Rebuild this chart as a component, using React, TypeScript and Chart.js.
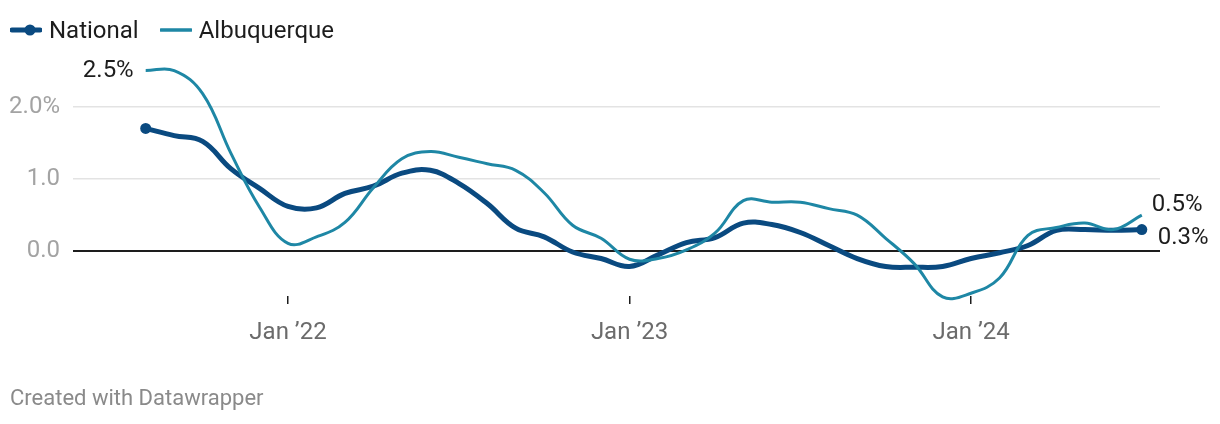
import React, { useEffect, useRef } from "react";
import { Chart, registerables } from "chart.js";

Chart.register(...registerables);

// Monthly, Aug 2021 .. Jul 2024 (index 0..35)
const months: string[] = [
  "Aug 2021", "Sep 2021", "Oct 2021", "Nov 2021", "Dec 2021",
  "Jan 2022", "Feb 2022", "Mar 2022", "Apr 2022", "May 2022", "Jun 2022", "Jul 2022",
  "Aug 2022", "Sep 2022", "Oct 2022", "Nov 2022", "Dec 2022",
  "Jan 2023", "Feb 2023", "Mar 2023", "Apr 2023", "May 2023", "Jun 2023", "Jul 2023",
  "Aug 2023", "Sep 2023", "Oct 2023", "Nov 2023", "Dec 2023",
  "Jan 2024", "Feb 2024", "Mar 2024", "Apr 2024", "May 2024", "Jun 2024", "Jul 2024",
];

const national: number[] = [
  1.70, 1.60, 1.52, 1.14, 0.87,
  0.62, 0.60, 0.80, 0.90, 1.08, 1.12, 0.94,
  0.66, 0.32, 0.20, -0.01, -0.10,
  -0.21, -0.05, 0.12, 0.19, 0.39, 0.37, 0.26,
  0.08, -0.10, -0.21, -0.22, -0.21,
  -0.10, -0.02, 0.08, 0.29, 0.30, 0.29, 0.30,
];

const albuquerque: number[] = [
  2.50, 2.50, 2.18, 1.35, 0.61,
  0.11, 0.20, 0.40, 0.88, 1.28, 1.38, 1.30,
  1.21, 1.12, 0.81, 0.36, 0.18,
  -0.11, -0.10, 0.02, 0.25, 0.70, 0.68, 0.68,
  0.59, 0.50, 0.18, -0.17, -0.63,
  -0.58, -0.37, 0.22, 0.33, 0.39, 0.30, 0.50,
];

const seriesNames: string[] = ["National", "Albuquerque"];
const seriesColors: string[] = ["#0a4a80", "#1e87a5"];

const xTickIndex: number[] = [5, 17, 29];
const xTickLabels: string[] = ["Jan \u201922", "Jan \u201923", "Jan \u201924"];

const yTickValues: number[] = [0, 1, 2];
const yTickLabels: string[] = ["0.0", "1.0", "2.0%"];

const FONT = "Roboto, 'Noto Sans', sans-serif";

export default function App() {
  const canvasRef = useRef<HTMLCanvasElement | null>(null);

  useEffect(() => {
    document.body.style.margin = "0";
    const canvas = canvasRef.current;
    if (!canvas) return;

    const endLabels = {
      id: "endLabels",
      afterDatasetsDraw(chart: any) {
        const ctx = chart.ctx;
        const xs = chart.scales.x;
        const ys = chart.scales.y;
        const last = months.length - 1;
        ctx.save();
        ctx.font = `24px ${FONT}`;
        ctx.fillStyle = "#1d1d1d";
        ctx.textBaseline = "middle";
        ctx.textAlign = "right";
        ctx.fillText(
          `${albuquerque[0].toFixed(1)}%`,
          xs.getPixelForValue(0) - 12,
          ys.getPixelForValue(albuquerque[0])
        );
        ctx.textAlign = "left";
        ctx.fillText(
          `${albuquerque[last].toFixed(1)}%`,
          xs.getPixelForValue(last) + 10,
          ys.getPixelForValue(albuquerque[last]) - 10
        );
        ctx.fillText(
          `${national[last].toFixed(1)}%`,
          xs.getPixelForValue(last) + 16,
          ys.getPixelForValue(national[last]) + 8
        );
        ctx.restore();
      },
    };

    const last = months.length - 1;
    const chart = new Chart(canvas, {
      type: "line",
      data: {
        datasets: [
          {
            label: seriesNames[1],
            data: albuquerque.map((v, i) => ({ x: i, y: v })),
            borderColor: seriesColors[1],
            backgroundColor: seriesColors[1],
            borderWidth: 3,
            pointRadius: 0,
            tension: 0.4,
            clip: false,
          } as any,
          {
            label: seriesNames[0],
            data: national.map((v, i) => ({ x: i, y: v })),
            borderColor: seriesColors[0],
            backgroundColor: seriesColors[0],
            borderWidth: 5,
            pointRadius: (c: any) => (c.dataIndex === 0 || c.dataIndex === last ? 5.5 : 0),
            pointBorderWidth: 0,
            tension: 0.4,
            clip: false,
          } as any,
        ],
      },
      options: {
        responsive: false,
        animation: false,
        layout: { padding: { top: 60, right: 60, left: 0, bottom: 0 } },
        plugins: {
          legend: { display: false },
          tooltip: { enabled: false },
        },
        scales: {
          x: {
            type: "linear",
            min: (73 - 145.7) / 28.46,
            max: (1160 - 145.7) / 28.46,
            border: { display: false },
            grid: {
              drawOnChartArea: false,
              drawTicks: true,
              tickLength: 8,
              color: "#1d1d1d",
              lineWidth: 1.5,
            },
            afterBuildTicks: (scale: any) => {
              scale.ticks = xTickIndex.map((v) => ({ value: v }));
            },
            afterFit: (scale: any) => {
              scale.height = 424 - 296;
            },
            ticks: {
              autoSkip: false,
              maxRotation: 0,
              padding: 15,
              color: "#6b6b6b",
              font: { family: FONT, size: 24 },
              callback: (v: any) => {
                const k = xTickIndex.indexOf(Number(v));
                return k >= 0 ? xTickLabels[k] : "";
              },
            },
          },
          y: {
            type: "linear",
            min: -44.7 / 72.3,
            max: 191.3 / 72.3,
            border: { display: false },
            afterBuildTicks: (scale: any) => {
              scale.ticks = yTickValues.map((v) => ({ value: v }));
            },
            afterFit: (scale: any) => {
              scale.width = 73;
            },
            grid: {
              drawTicks: false,
              color: (c: any) => (c.tick && c.tick.value === 0 ? "#1d1d1d" : "#e3e3e3"),
              lineWidth: (c: any) => (c.tick && c.tick.value === 0 ? 2 : 1.5),
            },
            ticks: {
              padding: 13,
              color: "#a3a3a3",
              font: { family: FONT, size: 24 },
              callback: (v: any) => {
                const k = yTickValues.indexOf(Number(v));
                return k >= 0 ? yTickLabels[k] : "";
              },
            },
          },
        },
      },
      plugins: [endLabels],
    });

    return () => chart.destroy();
  }, []);

  return (
    <div style={{ position: "relative", width: 1220, height: 424, fontFamily: FONT }}>
      <canvas ref={canvasRef} width={1220} height={424} style={{ display: "block" }} />
      <div
        style={{
          position: "absolute",
          left: 10,
          top: 15,
          display: "flex",
          alignItems: "center",
          fontSize: 24,
          color: "#1d1d1d",
          lineHeight: "30px",
        }}
      >
        <svg width={32} height={14} style={{ marginRight: 7 }}>
          <line x1={2} y1={7} x2={30} y2={7} stroke={seriesColors[0]} strokeWidth={5} strokeLinecap="round" />
          <circle cx={20} cy={7} r={5.5} fill={seriesColors[0]} />
        </svg>
        <span style={{ marginRight: 21 }}>{seriesNames[0]}</span>
        <svg width={32} height={14} style={{ marginRight: 7 }}>
          <line x1={1} y1={7} x2={31} y2={7} stroke={seriesColors[1]} strokeWidth={3.5} strokeLinecap="round" />
        </svg>
        <span>{seriesNames[1]}</span>
      </div>
      <div
        style={{
          position: "absolute",
          left: 10,
          top: 384,
          fontSize: 22,
          color: "#8a8a8a",
          lineHeight: "28px",
        }}
      >
        Created with Datawrapper
      </div>
    </div>
  );
}
